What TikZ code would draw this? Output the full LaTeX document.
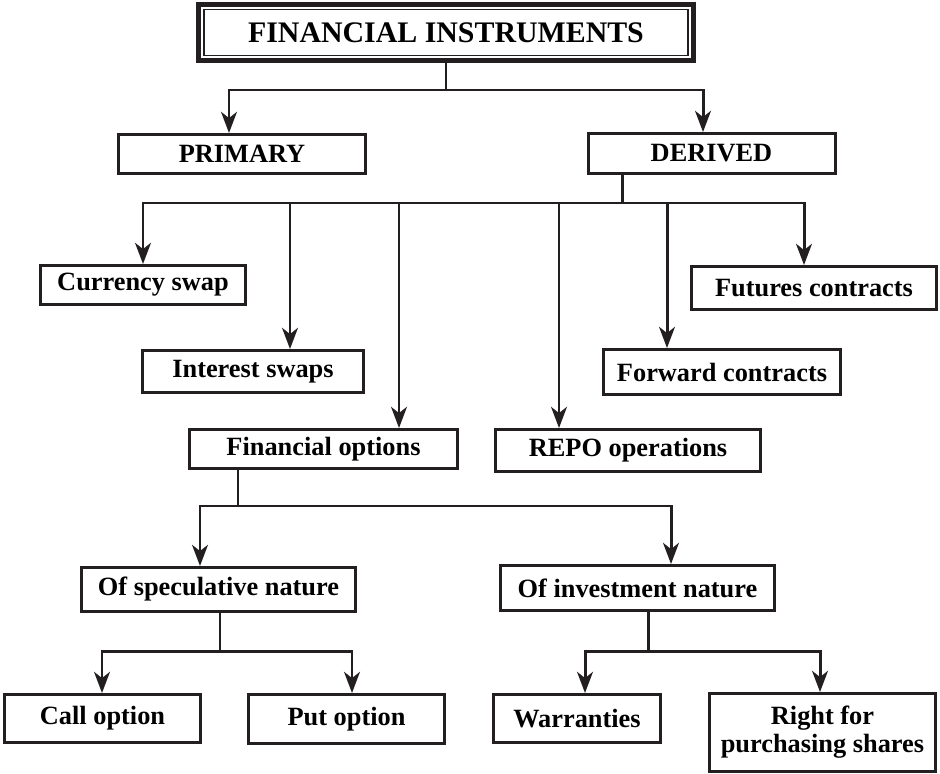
\documentclass[tikz,border=0pt]{standalone}
\usepackage{fontspec}
\setmainfont{Liberation Serif}
\usetikzlibrary{arrows.meta}
\definecolor{inkc}{RGB}{35,31,32}
\begin{document}
\begin{tikzpicture}[x=0.02cm,y=-0.02cm,
  ink/.style={draw=inkc, line width=1.7pt},
  box/.style={ink, rectangle, inner sep=0pt, text=black, align=center,
    font=\fontsize{15}{16}\selectfont\bfseries},
  sz/.style 2 args={minimum width=#1*0.02cm, minimum height=#2*0.02cm},
  arr/.style={ink, -{Stealth[length=12pt,width=9pt,inset=3.5pt]}}]
\useasboundingbox (0,0) rectangle (940,774);

% root with a heavy double frame
\node[draw=inkc, line width=3pt, rectangle, sz={495}{56}, inner sep=0pt,
  font=\fontsize{17}{18}\selectfont\bfseries] (title) at (446,32.5) {FINANCIAL INSTRUMENTS};
\draw[draw=inkc, line width=0.9pt] ([xshift=0.16cm,yshift=-0.15cm]title.north west)
  rectangle ([xshift=-0.16cm,yshift=0.15cm]title.south east);

% first level
\node[box, sz={247}{39}] (prim) at (242,154) {PRIMARY};
\node[box, sz={247}{40}] (der) at (711.5,153.5) {DERIVED};

% derived instruments
\node[box, sz={205}{39}] (cur) at (143,285) {Currency swap};
\node[box, sz={221}{42}] (int) at (253,371.5) {Interest swaps};
\node[box, sz={268}{39}] (fin) at (323.5,449) {Financial options};
\node[box, sz={265}{42}] (repo) at (628,450.5) {REPO operations};
\node[box, sz={237}{45}] (fwd) at (722,372) {Forward contracts};
\node[box, sz={245}{43}] (fut) at (814,288) {Futures contracts};

% kinds of options
\node[box, sz={274}{44}] (spec) at (218.5,589.5) {Of speculative nature};
\node[box, sz={274}{45}] (inv) at (637.5,588) {Of investment nature};

% leaves
\node[box, sz={196}{48}] (call) at (102.5,718.5) {Call option};
\node[box, sz={196}{49}] (put) at (346.5,719) {Put option};
\node[box, sz={167}{48}] (war) at (577,718.5) {Warranties};
\node[box, sz={226}{78}] (right) at (822.5,732.5) {Right for\\purchasing shares};

% root -> primary / derived
\coordinate (t0) at (446,90);
\coordinate (tL) at (229,90);
\coordinate (tR) at (703,90);
\draw[ink] (title.south) -- (t0);
\draw[arr] (tR) -- (tL) -- (tL |- prim.north);
\draw[arr] (tL) -- (tR) -- (tR |- der.north);

% derived -> instruments
\coordinate (d0) at (622,203);
\coordinate (d1) at (143,203);
\coordinate (d2) at (290,203);
\coordinate (d3) at (399,203);
\coordinate (d4) at (559,203);
\coordinate (d5) at (667,203);
\coordinate (d6) at (804,203);
\draw[ink] (d0 |- der.south) -- (d0);
\draw[arr] (d6) -- (d1) -- (d1 |- cur.north);
\draw[arr] (d1) -- (d6) -- (d6 |- fut.north);
\draw[arr] (d2) -- (d2 |- int.north);
\draw[arr] (d3) -- (d3 |- fin.north);
\draw[arr] (d4) -- (d4 |- repo.north);
\draw[arr] (d5) -- (d5 |- fwd.north);

% financial options -> natures
\coordinate (f0) at (238,506);
\coordinate (fL) at (200,506);
\coordinate (fR) at (671,506);
\draw[ink] (f0 |- fin.south) -- (f0);
\draw[arr] (fR) -- (fL) -- (fL |- spec.north);
\draw[arr] (fL) -- (fR) -- (fR |- inv.north);

% speculative -> call / put
\coordinate (s0) at (220,651);
\coordinate (sL) at (102,651);
\coordinate (sR) at (352,651);
\draw[ink] (s0 |- spec.south) -- (s0);
\draw[arr] (sR) -- (sL) -- (sL |- call.north);
\draw[arr] (sL) -- (sR) -- (sR |- put.north);

% investment -> warranties / rights
\coordinate (i0) at (648,651);
\coordinate (iL) at (585,651);
\coordinate (iR) at (820,651);
\draw[ink] (i0 |- inv.south) -- (i0);
\draw[arr] (iR) -- (iL) -- (iL |- war.north);
\draw[arr] (iL) -- (iR) -- (iR |- right.north);
\end{tikzpicture}
\end{document}
